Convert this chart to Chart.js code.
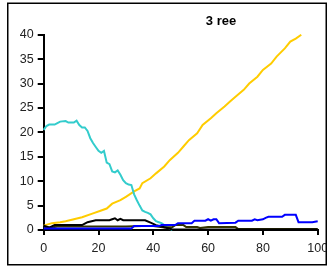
<!DOCTYPE html>
<html>
<head>
<meta charset="utf-8">
<script src="https://cdn.jsdelivr.net/npm/chart.js@4.4.1/dist/chart.umd.min.js"></script>
<style>
html,body{margin:0;padding:0;background:#fff;}
#wrap{position:relative;width:327px;height:267px;}
</style>
</head>
<body>
<div id="wrap"><canvas id="c" width="327" height="267"></canvas></div>
<script>
const chartTitle = "3 ree";
const xTicks = [0, 20, 40, 60, 80, 100];
const yTicks = [0, 5, 10, 15, 20, 25, 30, 35, 40];

const yellowX = [0,3,6,8,11,14,18,21,23,25,28,30,33,35,36,39,41,44,46,49,51,53,56,58,61,63,66,68,70,73,75,78,80,83,85,88,90,92,94];
const yellowY = [0.9,1.4,1.6,1.8,2.2,2.6,3.4,4.0,4.4,5.4,6.1,6.8,7.9,8.5,9.6,10.6,11.6,13.0,14.3,15.8,17.1,18.4,19.8,21.5,22.9,23.9,25.3,26.3,27.3,28.7,30.0,31.4,32.8,34.1,35.5,37.2,38.6,39.2,40.0];

const cyanX = [0,1,2,4,5,6,8,9,11,12,13,14,15,16,17,18,19,20,21,22,23,24,25,26,27,28,29,30,31,32,33,34,35,36,37,38,39,40,41,42,43,44,45,46,47];
const cyanY = [20.5,21.3,21.6,21.6,21.9,22.2,22.3,22.0,22.0,22.4,21.5,21.0,21.0,20.3,18.8,17.8,17.0,16.2,15.8,16.2,13.8,13.5,12.0,11.8,12.2,11.3,10.2,9.6,9.3,9.2,7.3,6.1,5.0,4.0,3.7,3.5,3.2,2.4,1.8,1.6,1.4,1.0,0.6,0.3,0];

const blueX = [0,32,33,42,43,48,49,54,55,59,60,61,62,63,64,70,71,76,77,78,80,81,82,87,88,92,93,98,100];
const blueY = [0.3,0.3,0.8,0.8,1.0,1.0,1.4,1.4,1.9,1.9,2.2,1.9,2.2,2.2,1.4,1.5,1.9,1.9,2.2,2.0,2.2,2.5,2.7,2.7,3.1,3.1,1.6,1.6,1.8];

const blackX = [0,2,4,14,15,16,19,24,25,26,27,28,29,30,37,39,41,43,45,47,100];
const blackY = [0.9,0.5,1.0,1.0,1.3,1.6,2.0,2.0,2.2,2.4,2.0,2.3,2.0,2.0,2.0,1.5,1.0,0.7,0.4,0.1,0.1];

const oliveX = [0,3,5,30,36,40,44,47,48,51,52,56,57,60,70,71,100];
const oliveY = [0.5,0.5,0.7,0.7,0.8,0.8,0.5,0.6,1.0,1.0,0.6,0.6,0.4,0.6,0.6,0.2,0.2];

function pts(xs, ys){ return xs.map((x,i)=>({x:x, y:ys[i]})); }

function ds(label, xs, ys, color){
  return {label, data: pts(xs, ys), borderColor: color, backgroundColor: color,
    borderWidth: 2, pointRadius: 0, tension: 0, fill: false, clip: 4};
}

const frameAndTitle = {
  id: 'frameAndTitle',
  afterDraw(chart){
    const ctx = chart.ctx;
    ctx.save();
    ctx.strokeStyle = '#000';
    ctx.lineWidth = 1.5;
    ctx.strokeRect(7.75, 3.25, 318.5, 261.5);
    ctx.fillStyle = '#000';
    ctx.font = 'bold 13px "Liberation Sans", Arial, sans-serif';
    ctx.textAlign = 'center';
    ctx.textBaseline = 'middle';
    ctx.fillText(chartTitle, 221, 21);
    ctx.restore();
  }
};

new Chart(document.getElementById('c'), {
  type: 'line',
  data: {
    datasets: [
      ds('blue', blueX, blueY, '#0000FF'),
      ds('black', blackX, blackY, '#000000'),
      ds('olive', oliveX, oliveY, '#333300'),
      ds('cyan', cyanX, cyanY, '#33CCCC'),
      ds('yellow', yellowX, yellowY, '#FFCC00')
    ]
  },
  options: {
    responsive: false,
    animation: false,
    devicePixelRatio: 1,
    layout: {padding: {left: 8, right: 9.3, top: 34.7, bottom: 9}},
    plugins: {legend: {display: false}, tooltip: {enabled: false}, title: {display: false}},
    scales: {
      x: {
        type: 'linear', min: 0, max: 100,
        afterBuildTicks: s => { s.ticks = xTicks.map(v => ({value: v})); },
        afterFit: s => { s.height = 28; s.paddingLeft = 0; s.paddingRight = 0; },
        border: {color: '#000', width: 2},
        grid: {drawOnChartArea: false, color: '#000', lineWidth: 2, tickLength: 5},
        ticks: {color: '#222', padding: 6, maxRotation: 0, autoSkip: false,
          font: {family: '"Liberation Sans", Arial, sans-serif', size: 12.5}}
      },
      y: {
        min: 0, max: 40,
        afterBuildTicks: s => { s.ticks = yTicks.map(v => ({value: v})); },
        afterFit: s => { s.width = 35.7; s.paddingTop = 0; s.paddingBottom = 0; },
        border: {color: '#000', width: 2},
        grid: {drawOnChartArea: false, color: '#000', lineWidth: 2, tickLength: 6},
        ticks: {color: '#222', padding: 4, autoSkip: false,
          font: {family: '"Liberation Sans", Arial, sans-serif', size: 12.5}}
      }
    }
  },
  plugins: [frameAndTitle]
});
</script>
</body>
</html>
